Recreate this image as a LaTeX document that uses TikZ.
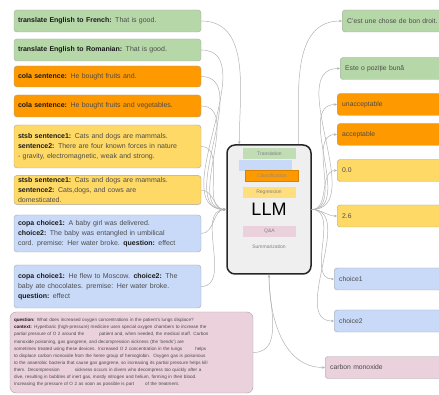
\documentclass[tikz,border=0pt]{standalone}
\usepackage{fontspec}
\setmainfont{Liberation Sans}
\usetikzlibrary{arrows.meta}

\newcommand{\bfkey}[1]{\textbf{\color{black!90}#1}}

\begin{document}
\begin{tikzpicture}[x=1pt,y=-1pt,
    inbox/.style={draw=black!35, rounded corners=3pt, inner xsep=4pt, inner ysep=2pt,
      text width=179pt, align=left, font=\fontsize{7}{10}\selectfont, text=black!70},
    outbox/.style={draw=black!35, rounded corners=3pt, anchor=west, inner xsep=5pt,
      text width=120pt, align=left, minimum height=22pt, font=\fontsize{6.8}{8}\selectfont, text=black!70},
    tasklabel/.style={minimum width=53pt, minimum height=11pt, inner sep=0pt,
      font=\fontsize{5}{6}\selectfont, text=black!50},
    wire/.style={draw=black!30, line width=0.5pt, -{Stealth[length=3pt,width=2.6pt]}}]

      % Colors
      \definecolor{transl}{HTML}{B6D7A8}
      \definecolor{colaor}{HTML}{FF9900}
      \definecolor{stsbyl}{HTML}{FFD966}
      \definecolor{copabl}{HTML}{C9DAF8}
      \definecolor{squadpk}{HTML}{EAD1DC}
      \definecolor{llmbg}{HTML}{EFEFEF}

      \useasboundingbox (0,0) rectangle (439,395);
      \clip (0,0) rectangle (439,395);

      % Inputs
      \node[inbox, fill=transl, minimum height=22pt] (in1) at (107.5,21) {\bfkey{translate English to French:} That is good.};
      \node[inbox, fill=transl, minimum height=22pt] (in2) at (107.5,50) {\bfkey{translate English to Romanian:} That is good.};
      \node[inbox, fill=colaor, minimum height=21pt] (in3) at (107.5,76.5) {\bfkey{cola sentence:} He bought fruits and.};
      \node[inbox, fill=colaor, minimum height=22pt] (in4) at (107.5,106) {\bfkey{cola sentence:} He bought fruits and vegetables.};
      \node[inbox, fill=stsbyl, minimum height=43pt] (in5) at (107.5,146.5) {\bfkey{stsb sentence1:} Cats and dogs are mammals.\\
        \bfkey{sentence2:} There are four known forces in nature\\
        - gravity, electromagnetic, weak and strong.};
      \node[inbox, fill=stsbyl, minimum height=28pt] (in6) at (107.5,190) {\bfkey{stsb sentence1:} Cats and dogs are mammals.\\
        \bfkey{sentence2:} Cats,dogs, and cows are\\
        domesticated.};
      \node[inbox, fill=copabl, minimum height=37pt] (in7) at (107.5,233.5) {\bfkey{copa choice1:} A baby girl was delivered.\\
        \bfkey{choice2:} The baby was entangled in umbilical\\
        cord. premise: Her water broke. \bfkey{question:} effect};
      \node[inbox, fill=copabl, minimum height=43pt] (in8) at (107.5,286.5) {\bfkey{copa choice1:} He flew to Moscow. \bfkey{choice2:} The\\
        baby ate chocolates. premise: Her water broke.\\
        \bfkey{question:} effect};
      \node[inbox, fill=squadpk, text width=235pt, minimum height=81pt, rounded corners=6pt,
        font=\fontsize{4.6}{7.1}\selectfont] (in9) at (131.5,352.5) {\bfkey{question:} What does increased oxygen concentrations in the patient's lungs displace?\\
        \bfkey{context:} Hyperbaric (high-pressure) medicine uses special oxygen chambers to increase the\\
        partial pressure of O 2 around the \hspace{12pt} patient and, when needed, the medical staff. Carbon\\
        monoxide poisoning, gas gangrene, and decompression sickness (the `bends') are\\
        sometimes treated using these devices. Increased O 2 concentration in the lungs \hspace{10pt} helps\\
        to displace carbon monoxide from the heme group of hemoglobin.\ \ Oxygen gas is poisonous\\
        to the anaerobic bacteria that cause gas gangrene, so increasing its partial pressure helps kill\\
        them. Decompression \hspace{12pt} sickness occurs in divers who decompress too quickly after a\\
        dive, resulting in bubbles of inert gas, mostly nitrogen and helium, forming in their blood.\\
        Increasing the pressure of O 2 as soon as possible is part \hspace{8pt} of the treatment.};

      % Model
      \node[draw=black!85, line width=1.5pt, fill=llmbg, rounded corners=8pt, minimum width=84pt,
        minimum height=129pt, font=\fontsize{18}{20}\selectfont] (llm) at (269,209.5) {LLM};
      \node[tasklabel, fill=transl!85] (tr) at (269.5,153.5) {Translation};
      \node[tasklabel, fill=copabl] (cp) at (265.5,166) {};
      \node[tasklabel, fill=colaor, draw=colaor!85!black, text=black!45] (cl) at (272,175.5) {Classification};
      \node[tasklabel, fill=stsbyl!85] (rg) at (269,192.5) {Regression};
      \node[tasklabel, fill=squadpk] (qa) at (269.5,231.5) {Q\&A};
      \node[tasklabel] (sm) at (269,247) {Summarization};

      % Outputs
      \node[outbox, fill=transl] (out1) at (342,21) {C'est une chose de bon droit.};
      \node[outbox, fill=transl] (out2) at (340,68.5) {Este o poziție bună};
      \node[outbox, fill=colaor] (out3) at (337,104.5) {unacceptable};
      \node[outbox, fill=colaor] (out4) at (337,134.5) {acceptable};
      \node[outbox, fill=stsbyl] (out5) at (337,170.5) {0.0};
      \node[outbox, fill=stsbyl] (out6) at (337,216) {2.6};
      \node[outbox, fill=copabl] (out7) at (334,279) {choice1};
      \node[outbox, fill=copabl] (out8) at (334,321) {choice2};
      \node[outbox, fill=squadpk] (out9) at (325,367.5) {carbon monoxide};

      % Input connections
      \draw[wire] (in1.east) to[out=0,in=90] ([xshift=13pt]llm.north west);
      \draw[wire] (in2.east) to[out=0,in=180] (llm.west);
      \draw[wire] (in3.east) to[out=0,in=180] (llm.west);
      \draw[wire] (in4.east) to[out=0,in=180] (llm.west);
      \draw[wire] (in5.east) to[out=0,in=180] (llm.west);
      \draw[wire] (in6.east) to[out=0,in=180] (llm.west);
      \draw[wire] (in7.east) to[out=0,in=180] (llm.west);
      \draw[wire] (in8.east) to[out=0,in=180] (llm.west);
      \draw[wire] (in9.east) to[out=0,in=-90] (llm.south);

      % Output connections
      \draw[wire] ([xshift=-13pt]llm.north east) to[out=90,in=180] (out1.west);
      \draw[wire] (llm.east) to[out=0,in=180] (out2.west);
      \draw[wire] (llm.east) to[out=0,in=180] (out3.west);
      \draw[wire] (llm.east) to[out=0,in=180] (out4.west);
      \draw[wire] (llm.east) to[out=0,in=180] (out5.west);
      \draw[wire] (llm.east) to[out=0,in=180] (out6.west);
      \draw[wire] (llm.east) to[out=0,in=180] (out7.west);
      \draw[wire] (llm.east) to[out=0,in=180] (out8.west);
      \draw[wire] (llm.south) to[out=-90,in=180] (out9.west);

\end{tikzpicture}
\end{document}
